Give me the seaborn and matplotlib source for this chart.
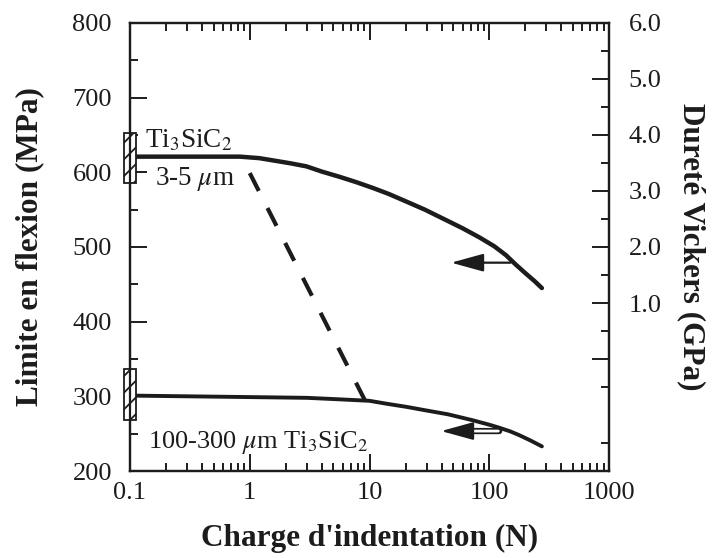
import matplotlib
matplotlib.use("Agg")
import numpy as np
import pandas as pd
import seaborn as sns
import matplotlib.pyplot as plt
from matplotlib.patches import Rectangle
from matplotlib.transforms import blended_transform_factory
from matplotlib.ticker import FixedLocator, FuncFormatter, LogLocator, NullFormatter, FixedFormatter

# ---- data ----
fine_load = [0.1, 0.3, 0.83, 1.2, 1.56, 2.2, 2.97, 4.0, 5.62, 7.7, 10.7, 14.5, 20.2,
             29.0, 43.6, 60.0, 82.5, 110, 138, 165, 200, 240, 275]
fine_strength = [621, 621, 621, 619, 616, 612, 608, 601, 594, 587, 579, 571, 561,
                 550, 536, 525, 513, 501, 489, 477, 465, 454, 445]

coarse_load = [0.1, 1.0, 3.0, 5.6, 10.0, 14.0, 20.2, 30.0, 45.0, 72.6, 100, 121, 150,
               178, 220, 275]
coarse_strength = [301, 299, 298, 296, 294, 290, 286, 281, 276, 268, 262, 258, 253,
                   248, 241, 233]

transition_load = [1.0, 9.4]
transition_strength = [599, 291]

x_ticks = [0.1, 1, 10, 100, 1000]
left_ticks = [200, 300, 400, 500, 600, 700, 800]
right_ticks = [0, 1, 2, 3, 4, 5, 6]
right_labels = ["", "1.0", "2.0", "3.0", "4.0", "5.0", "6.0"]

sns.set_theme(style="ticks")
plt.rcParams["font.family"] = ["Liberation Serif", "DejaVu Serif"]
plt.rcParams["mathtext.fontset"] = "stix"
plt.rcParams["hatch.linewidth"] = 1.3
ink = "#1c1c1c"

fig = plt.figure(figsize=(7.21, 5.58), dpi=100)
ax = fig.add_axes([0.1803, 0.1559, 0.6644, 0.8029])

df_fine = pd.DataFrame({"load": fine_load, "strength": fine_strength})
df_coarse = pd.DataFrame({"load": coarse_load, "strength": coarse_strength})
df_trans = pd.DataFrame({"load": transition_load, "strength": transition_strength})

sns.lineplot(data=df_fine, x="load", y="strength", ax=ax, color=ink, lw=3.2,
             estimator=None, sort=False)
sns.lineplot(data=df_coarse, x="load", y="strength", ax=ax, color=ink, lw=2.8,
             estimator=None, sort=False)
sns.lineplot(data=df_trans, x="load", y="strength", ax=ax, color=ink, lw=3.0,
             estimator=None, sort=False, dashes=False)
ax.lines[-1].set_dashes((4.8, 4.6))
ax.lines[-1].set_dash_capstyle("butt")
for ln in ax.lines[:2]:
    ln.set_solid_joinstyle("round")
    ln.set_solid_capstyle("round")

ax.set_xscale("log")
ax.set_xlim(0.1, 1000)
ax.set_ylim(200, 800)
ax.xaxis.set_major_locator(FixedLocator(x_ticks))
ax.xaxis.set_major_formatter(FuncFormatter(lambda v, p: f"{v:g}"))
ax.xaxis.set_minor_locator(LogLocator(base=10, subs=np.arange(2, 10)))
ax.xaxis.set_minor_formatter(NullFormatter())
ax.yaxis.set_major_locator(FixedLocator(left_ticks))
ax.yaxis.set_minor_locator(FixedLocator([250, 350, 450, 550, 650, 750]))

ax.tick_params(which="both", direction="in", top=True, right=False, width=1.4,
               colors=ink, labelsize=19)
ax.tick_params(which="major", length=12)
ax.tick_params(which="minor", length=6)
ax.tick_params(axis="y", pad=13)
ax.tick_params(axis="x", pad=8)
for s in ax.spines.values():
    s.set_linewidth(1.6)
    s.set_color(ink)

ax.set_xlabel("Charge d'indentation (N)", fontsize=22.5, fontweight="bold",
              color=ink, labelpad=14)
ax.set_ylabel("Limite en flexion (MPa)", fontsize=22.5, fontweight="bold",
              color=ink, labelpad=20)

ax2 = ax.twinx()
ax2.set_ylim(-2, 6)
ax2.yaxis.set_major_locator(FixedLocator(right_ticks))
ax2.yaxis.set_major_formatter(FixedFormatter(right_labels))
ax2.yaxis.set_minor_locator(FixedLocator([-1.5, -0.5, 0.5, 1.5, 2.5, 3.5, 4.5, 5.5]))
ax2.tick_params(which="both", direction="in", width=1.4, colors=ink, labelsize=19, pad=14)
ax2.tick_params(which="major", length=12)
ax2.tick_params(which="minor", length=6)
for s in ax2.spines.values():
    s.set_linewidth(1.6)
    s.set_color(ink)
ax2.set_ylabel("Dureté Vickers (GPa)", fontsize=22.5, fontweight="bold", color=ink,
               rotation=270, labelpad=32)

# hatched bars on the left axis
tr = blended_transform_factory(ax.transAxes, ax.transData)
for lo, hi in [(586, 653), (268, 337)]:
    ax.add_patch(Rectangle((-0.0125, lo), 0.025, hi - lo, transform=tr, clip_on=False,
                           facecolor="white", edgecolor=ink, hatch="//", lw=1.3, zorder=5))

# arrows
ax.annotate("", xy=(48, 479), xytext=(150, 479),
            arrowprops=dict(arrowstyle="-|>,head_length=2.0,head_width=0.55",
                            mutation_scale=10, lw=1.6, color=ink, shrinkA=0, shrinkB=0))
ax.annotate("", xy=(55, 253.5), xytext=(121, 253.5),
            arrowprops=dict(arrowstyle="-", lw=4.5, color=ink, shrinkA=0, shrinkB=0))
ax.annotate("", xy=(55, 253.5), xytext=(119, 253.5),
            arrowprops=dict(arrowstyle="-", lw=2.0, color="white", shrinkA=0, shrinkB=0))
ax.annotate("", xy=(39.6, 253.5), xytext=(58, 253.5),
            arrowprops=dict(arrowstyle="-|>,head_length=2.0,head_width=0.55",
                            mutation_scale=10, lw=1.6, color=ink, shrinkA=0, shrinkB=0))

# labels
ax.text(0.133, 634, r"Ti$_3$SiC$_2$", fontsize=19.5, color=ink, va="baseline")
ax.text(0.162, 583, r"3-5 $\mu$m", fontsize=19.5, color=ink, va="baseline")
ax.text(0.141, 231, r"100-300 $\mu$m Ti$_3$SiC$_2$", fontsize=19, color=ink, va="baseline")

fig.savefig("out.png", dpi=100)
